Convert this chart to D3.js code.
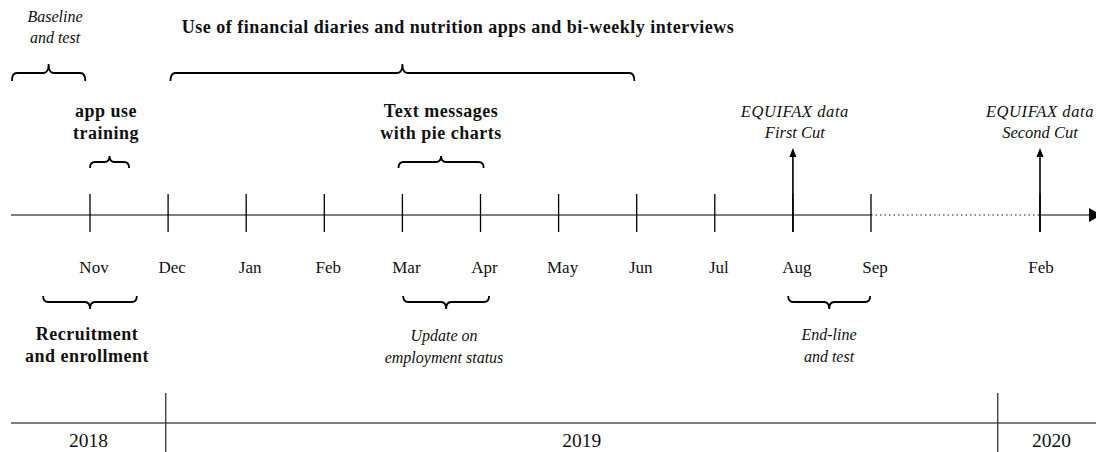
<!DOCTYPE html>
<html>
<head>
<meta charset="utf-8">
<script src="https://cdn.jsdelivr.net/npm/d3@7/dist/d3.min.js"></script>
<style>
  html, body { margin: 0; padding: 0; background: #fff; }
  svg { display: block; }
  text { font-family: "Liberation Serif", "Times New Roman", serif; fill: #111; }
</style>
</head>
<body>
<svg id="chart" width="1096" height="452"></svg>
<script>
// ---------- data ----------
// month ticks (index = months since Nov 2018)
const monthLabels = ["Nov", "Dec", "Jan", "Feb", "Mar", "Apr", "May", "Jun", "Jul", "Aug", "Sep", "Feb"];
const monthIndex  = [0, 1, 2, 3, 4, 5, 6, 7, 8, 9, 10, 15];
// year band
const yearLabels = ["2018", "2019", "2020"];
const yearBreaks = [0.97, 13.75];
// brace spans (start, end in month index)
const braceNames  = ["Baseline", "Use", "AppTraining", "TextMsg", "Recruit", "Update", "EndLine"];
const braceStart  = [-1.0, 1.03, 0.0, 3.95, -0.6, 4.01, 8.94];
const braceEnd    = [-0.06, 6.97, 0.5, 5.04, 0.6, 5.11, 9.99];
const braceText   = [
  ["Baseline", "and test"],
  ["Use of financial diaries and nutrition apps and bi-weekly interviews"],
  ["app use", "training"],
  ["Text messages", "with pie charts"],
  ["Recruitment", "and enrollment"],
  ["Update on", "employment status"],
  ["End-line", "and test"]
];
// data cut events
const eventIndex = [9, 15];
const eventText  = [["EQUIFAX data", "First Cut"], ["EQUIFAX data", "Second Cut"]];

// ---------- layout ----------
const W = 1096, H = 452;
const svg = d3.select("#chart");
const x = d3.scaleLinear().domain([0, 10, 15]).range([90, 871, 1040]);
const axisY = 215;
const leftX = 11, rightX = 1096;

const braceLayout = {
  Baseline:    {yEnd: 81,  yMid: 73,  yTip: 64,  style: "italic", textX: 55,  textY: [22, 43]},
  Use:         {yEnd: 81,  yMid: 73,  yTip: 64,  style: "bold",   textX: 458, textY: [33]},
  AppTraining: {yEnd: 168, yMid: 162, yTip: 156, style: "bold",   textX: 106, textY: [117, 139]},
  TextMsg:     {yEnd: 168, yMid: 162, yTip: 156, style: "bold",   textX: 441, textY: [117, 139]},
  Recruit:     {yEnd: 296, yMid: 302, yTip: 309, style: "bold",   textX: 87,  textY: [340, 362]},
  Update:      {yEnd: 296, yMid: 302, yTip: 309, style: "italic", textX: 444, textY: [341, 363]},
  EndLine:     {yEnd: 296, yMid: 302, yTip: 309, style: "italic", textX: 829, textY: [340, 362]}
};

function bracePath(x0, x1, yEnd, yMid, yTip) {
  const xm = (x0 + x1) / 2;
  const r = Math.min(5, (x1 - x0) / 6);
  const p = d3.path();
  p.moveTo(x0, yEnd);
  p.quadraticCurveTo(x0, yMid, x0 + r, yMid);
  p.lineTo(xm - r, yMid);
  p.quadraticCurveTo(xm, yMid, xm, yTip);
  p.quadraticCurveTo(xm, yMid, xm + r, yMid);
  p.lineTo(x1 - r, yMid);
  p.quadraticCurveTo(x1, yMid, x1, yEnd);
  return p.toString();
}

// ---------- main time line ----------
const gAxis = svg.append("g");
gAxis.append("line")
  .attr("x1", leftX).attr("x2", x(10)).attr("y1", axisY).attr("y2", axisY)
  .attr("stroke", "#555").attr("stroke-width", 1.6);
gAxis.append("line")
  .attr("x1", x(10)).attr("x2", x(15)).attr("y1", axisY).attr("y2", axisY)
  .attr("stroke", "#666").attr("stroke-width", 1.3).attr("stroke-dasharray", "1.5,3");
gAxis.append("line")
  .attr("x1", x(15)).attr("x2", 1091).attr("y1", axisY).attr("y2", axisY)
  .attr("stroke", "#555").attr("stroke-width", 1.6);
gAxis.append("path")
  .attr("d", `M1089,${axisY - 7}L1101,${axisY}L1089,${axisY + 7}Z`)
  .attr("fill", "#000");

// ticks
gAxis.selectAll("line.tick").data(monthIndex).join("line")
  .attr("class", "tick")
  .attr("x1", d => x(d)).attr("x2", d => x(d))
  .attr("y1", 194).attr("y2", 232)
  .attr("stroke", "#000").attr("stroke-width", 1.3);

// month labels
gAxis.selectAll("text.month").data(monthIndex).join("text")
  .attr("class", "month")
  .attr("x", (d, i) => x(d) + (i === monthIndex.length - 1 ? 1 : 4))
  .attr("y", 273)
  .attr("text-anchor", "middle")
  .attr("font-size", 17)
  .text((d, i) => monthLabels[i]);

// ---------- events (arrows) ----------
const gEv = svg.append("g");
eventIndex.forEach((d, i) => {
  const xx = x(d);
  gEv.append("line")
    .attr("x1", xx).attr("x2", xx).attr("y1", 232).attr("y2", 154)
    .attr("stroke", "#000").attr("stroke-width", 1.6);
  gEv.append("path")
    .attr("d", `M${xx - 3.5},${157}L${xx},${148}L${xx + 3.5},${157}Z`)
    .attr("fill", "#000");
  eventText[i].forEach((t, j) => {
    gEv.append("text")
      .attr("x", xx + (i === 0 ? 2 : 0)).attr("y", [117, 138][j])
      .attr("text-anchor", "middle")
      .attr("font-size", 16.5)
      .attr("letter-spacing", j === 0 ? 0.6 : 0)
      .attr("font-style", "italic")
      .text(t);
  });
});

// ---------- braces ----------
const gBr = svg.append("g");
braceNames.forEach((name, i) => {
  const L = braceLayout[name];
  gBr.append("path")
    .attr("d", bracePath(x(braceStart[i]), x(braceEnd[i]), L.yEnd, L.yMid, L.yTip))
    .attr("fill", "none").attr("stroke", "#000").attr("stroke-width", 1.8);
  braceText[i].forEach((t, j) => {
    gBr.append("text")
      .attr("x", L.textX).attr("y", L.textY[j])
      .attr("text-anchor", "middle")
      .attr("font-size", L.style === "bold" ? 18 : 16)
      .attr("letter-spacing", L.style === "bold" ? 0.5 : 0)
      .attr("font-weight", L.style === "bold" ? "bold" : "normal")
      .attr("font-style", L.style === "italic" ? "italic" : "normal")
      .text(t);
  });
});

// ---------- year band ----------
const yearY = 423;
const gYear = svg.append("g");
gYear.append("line")
  .attr("x1", leftX).attr("x2", rightX).attr("y1", yearY).attr("y2", yearY)
  .attr("stroke", "#555").attr("stroke-width", 1.5);
gYear.selectAll("line.yb").data(yearBreaks).join("line")
  .attr("class", "yb")
  .attr("x1", d => x(d)).attr("x2", d => x(d))
  .attr("y1", 393).attr("y2", H)
  .attr("stroke", "#333").attr("stroke-width", 1.3);
const edges = [leftX].concat(yearBreaks.map(d => x(d)), [1105]);
gYear.selectAll("text.year").data(yearLabels).join("text")
  .attr("class", "year")
  .attr("x", (d, i) => (edges[i] + edges[i + 1]) / 2)
  .attr("y", 447)
  .attr("text-anchor", "middle")
  .attr("font-size", 19.5)
  .text(d => d);
</script>
</body>
</html>
